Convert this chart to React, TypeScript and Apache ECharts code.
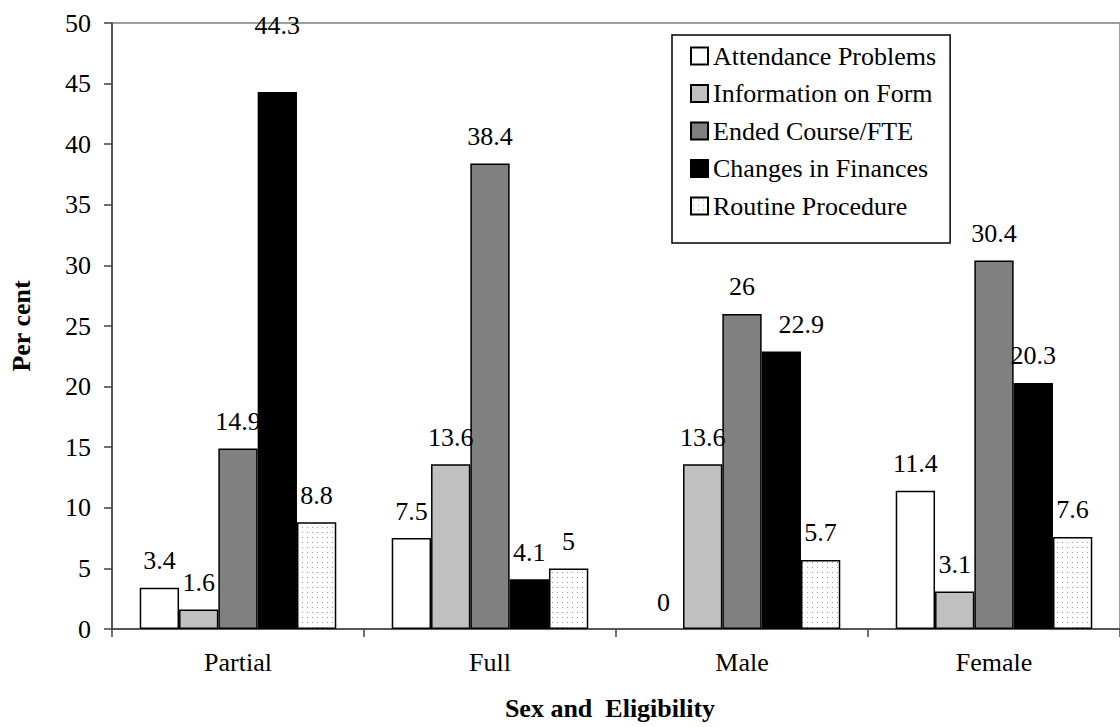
import React, { useEffect, useRef } from "react";
import * as echarts from "echarts";

const categories = ["Partial", "Full", "Male", "Female"];
const seriesNames = [
  "Attendance Problems",
  "Information on Form",
  "Ended Course/FTE",
  "Changes in Finances",
  "Routine Procedure",
];
const attendance = [3.4, 7.5, 0, 11.4];
const information = [1.6, 13.6, 13.6, 3.1];
const endedCourse = [14.9, 38.4, 26, 30.4];
const finances = [44.3, 4.1, 22.9, 20.3];
const routine = [8.8, 5, 5.7, 7.6];
const yTicks = { min: 0, max: 50, interval: 5 };

const FONT = "Liberation Serif";

// label nudges (series index -> category index -> [dx, dy]) as in the original
const labelNudges: Record<number, Record<number, [number, number]>> = {
  3: { 0: [0, -40], 2: [20, 0] },
};

function makeDots(): HTMLCanvasElement {
  const c = document.createElement("canvas");
  c.width = 5;
  c.height = 5;
  const ctx = c.getContext("2d")!;
  ctx.fillStyle = "#ffffff";
  ctx.fillRect(0, 0, 5, 5);
  ctx.fillStyle = "#9a9a9a";
  ctx.fillRect(2, 2, 1, 1);
  return c;
}

export default function App() {
  const ref = useRef<HTMLDivElement>(null);
  useEffect(() => {
    if (!ref.current) return;
    const chart = echarts.init(ref.current, null, { renderer: "svg" });
    const dots = makeDots();
    const fills: any[] = [
      "#ffffff",
      "#c0c0c0",
      "#808080",
      "#000000",
      { image: dots, repeat: "repeat", imageWidth: 5, imageHeight: 5 },
    ];
    const values = [attendance, information, endedCourse, finances, routine];
    const series = seriesNames.map((name, i) => ({
      name,
      type: "bar",
      data: values[i].map((v, j) => {
        const item: any = { value: v };
        if (v === 0) item.itemStyle = { borderWidth: 0 };
        const nudge = labelNudges[i] && labelNudges[i][j];
        if (nudge) item.label = { offset: nudge };
        return item;
      }),
      barGap: "0%",
      barCategoryGap: "22%",
      itemStyle: { color: fills[i], borderColor: "#000", borderWidth: 1.5 },
      label: {
        show: true,
        position: "top",
        distance: 14,
        color: "#000",
        fontSize: 26,
        fontFamily: FONT,
      },
    }));
    chart.setOption({
      animation: false,
      backgroundColor: "#ffffff",
      grid: {
        left: 112,
        right: -10,
        top: 23,
        bottom: 98,
        show: true,
        borderColor: "#808080",
        borderWidth: 1.5,
      },
      legend: {
        orient: "vertical",
        left: 672,
        top: 35,
        icon: "rect",
        itemWidth: 17,
        itemHeight: 17,
        itemGap: 11.5,
        padding: [8, 14, 24, 18],
        borderColor: "#000",
        borderWidth: 1.5,
        backgroundColor: "#fff",
        textStyle: {
          fontFamily: FONT,
          fontSize: 26,
          color: "#000",
          lineHeight: 26,
        },
        data: seriesNames,
      },
      xAxis: {
        type: "category",
        data: categories,
        name: "Sex and  Eligibility",
        nameLocation: "middle",
        nameGap: 66,
        nameTextStyle: {
          fontFamily: FONT,
          fontSize: 26,
          fontWeight: "bold",
          color: "#000",
          padding: [0, 12, 0, 0],
        },
        axisLine: { lineStyle: { color: "#404040", width: 1.5 } },
        axisTick: { show: true, length: 8, lineStyle: { color: "#404040", width: 1.5 } },
        axisLabel: {
          fontFamily: FONT,
          fontSize: 26,
          color: "#000",
          margin: 20,
        },
      },
      yAxis: {
        type: "value",
        min: yTicks.min,
        max: yTicks.max,
        interval: yTicks.interval,
        name: "Per cent",
        nameLocation: "middle",
        nameGap: 78,
        nameRotate: 90,
        nameTextStyle: {
          fontFamily: FONT,
          fontSize: 26,
          fontWeight: "bold",
          color: "#000",
        },
        splitLine: { show: false },
        axisLine: { show: true, lineStyle: { color: "#404040", width: 1.5 } },
        axisTick: { show: true, length: 8, lineStyle: { color: "#404040", width: 1.5 } },
        axisLabel: {
          fontFamily: FONT,
          fontSize: 26,
          color: "#000",
          margin: 21,
        },
      },
      series,
    });
    return () => chart.dispose();
  }, []);
  return (
    <div
      ref={ref}
      style={{ position: "fixed", left: 0, top: 0, width: 1120, height: 727 }}
    />
  );
}
